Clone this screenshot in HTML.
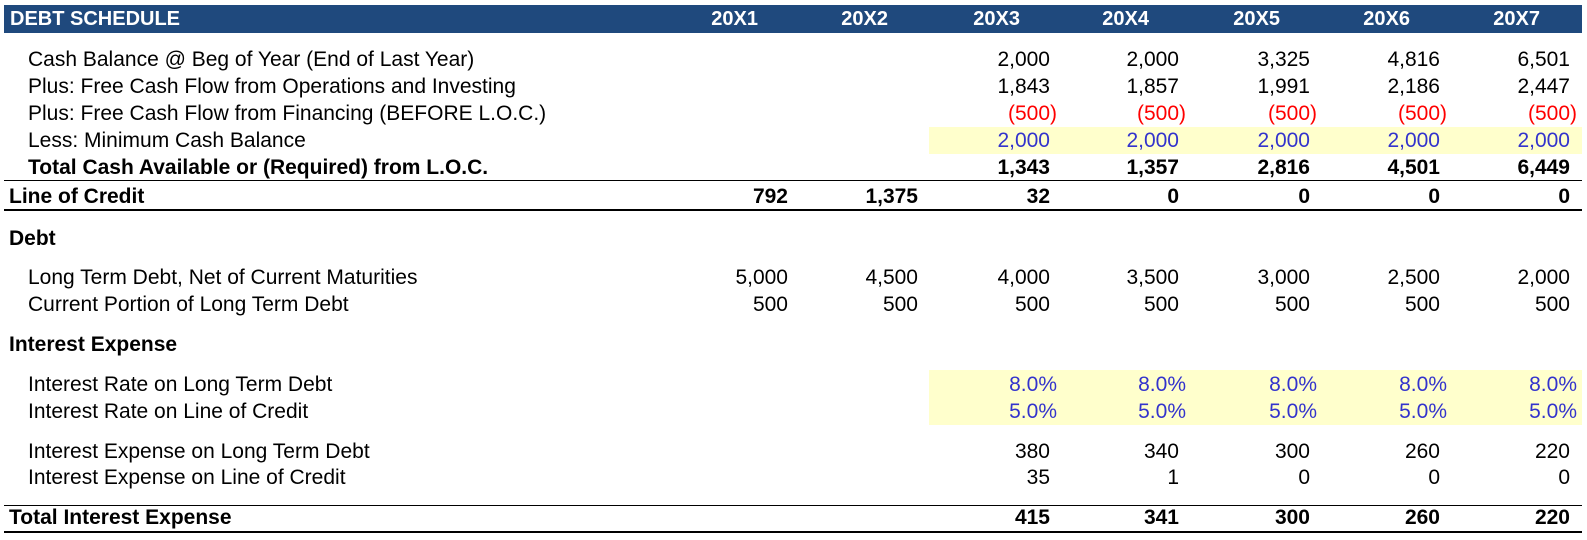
<!DOCTYPE html>
<html><head><meta charset="utf-8">
<style>
body{margin:0;background:#fff;width:1587px;height:540px;overflow:hidden;position:relative;font-family:"Liberation Sans",Arial,sans-serif;}
.t{position:absolute;font-size:21px;line-height:24px;white-space:nowrap;color:#000;}
.b{font-weight:bold;}
.r{text-align:right;}
.hdr{position:absolute;left:4px;top:5px;width:1578px;height:28px;background:#1F497D;}
.ht{position:absolute;color:#fff;font-weight:bold;font-size:20px;line-height:28px;top:5px;}
.yel{position:absolute;background:#FFFFCC;}
.ln{position:absolute;left:4px;width:1578px;background:#000;}
</style></head>
<body>
<div class="hdr"></div>
<div class="ht" style="left:10px">DEBT SCHEDULE</div>
<div class="yel" style="left:929px;top:127px;width:653px;height:27px"></div>
<div class="yel" style="left:929px;top:370px;width:653px;height:55px"></div>
<div class="ln" style="top:180px;height:1px"></div>
<div class="ln" style="top:209px;height:2px"></div>
<div class="ln" style="top:505px;height:1px"></div>
<div class="ln" style="top:531px;height:2px"></div>
<div id="root"></div>
<script>
const years=["20X1","20X2","20X3","20X4","20X5","20X6","20X7"];
const colRight=[788,918,1050,1179,1310,1440,1570];
const cashBeg=["","","2,000","2,000","3,325","4,816","6,501"];
const fcfOps=["","","1,843","1,857","1,991","2,186","2,447"];
const fcfFin=["","","(500)","(500)","(500)","(500)","(500)"];
const minCash=["","","2,000","2,000","2,000","2,000","2,000"];
const totalCash=["","","1,343","1,357","2,816","4,501","6,449"];
const loc=["792","1,375","32","0","0","0","0"];
const ltd=["5,000","4,500","4,000","3,500","3,000","2,500","2,000"];
const cpltd=["500","500","500","500","500","500","500"];
const rateLtd=["","","8.0%","8.0%","8.0%","8.0%","8.0%"];
const rateLoc=["","","5.0%","5.0%","5.0%","5.0%","5.0%"];
const intLtd=["","","380","340","300","260","220"];
const intLoc=["","","35","1","0","0","0"];
const totInt=["","","415","341","300","260","220"];
const rows=[
 {label:"Cash Balance @ Beg of Year (End of Last Year)",y:60,ind:true,vals:cashBeg,name:"cash-balance-beg"},
 {label:"Plus: Free Cash Flow from Operations and Investing",y:87,ind:true,vals:fcfOps,name:"fcf-operations"},
 {label:"Plus: Free Cash Flow from Financing (BEFORE L.O.C.)",y:114,ind:true,vals:fcfFin,name:"fcf-financing",color:"#FF0000"},
 {label:"Less: Minimum Cash Balance",y:141,ind:true,vals:minCash,name:"min-cash",color:"#3333CC"},
 {label:"Total Cash Available or (Required) from L.O.C.",y:168,ind:true,bold:true,vals:totalCash,name:"total-cash"},
 {label:"Line of Credit",y:197,bold:true,vals:loc,name:"line-of-credit"},
 {label:"Debt",y:239,bold:true,vals:null,name:"debt-heading"},
 {label:"Long Term Debt, Net of Current Maturities",y:278,ind:true,vals:ltd,name:"long-term-debt"},
 {label:"Current Portion of Long Term Debt",y:305,ind:true,vals:cpltd,name:"current-portion-ltd"},
 {label:"Interest Expense",y:345,bold:true,vals:null,name:"interest-heading"},
 {label:"Interest Rate on Long Term Debt",y:385,ind:true,vals:rateLtd,name:"rate-ltd",color:"#3333CC"},
 {label:"Interest Rate on Line of Credit",y:412,ind:true,vals:rateLoc,name:"rate-loc",color:"#3333CC"},
 {label:"Interest Expense on Long Term Debt",y:452,ind:true,vals:intLtd,name:"interest-ltd"},
 {label:"Interest Expense on Line of Credit",y:478,ind:true,vals:intLoc,name:"interest-loc"},
 {label:"Total Interest Expense",y:518,bold:true,vals:totInt,name:"total-interest"}
];
const root=document.getElementById('root');
years.forEach((yr,i)=>{
 const d=document.createElement('div');
 d.className='ht r';
 d.style.left=(colRight[i]-130)+'px';d.style.width='100px';
 d.textContent=yr;
 
 
 root.appendChild(d);
});
rows.forEach(r=>{
 const l=document.createElement('div');
 l.className='t'+(r.bold?' b':'');
 l.style.left=(r.ind?28:9)+'px';l.style.top=(r.y-12)+'px';
 l.textContent=r.label;
 
 
 root.appendChild(l);
 if(!r.vals)return;
 r.vals.forEach((v,i)=>{
  if(v==="")return;
  const c=document.createElement('div');
  c.className='t r'+(r.bold?' b':'');
  const extra=(v.indexOf('(')===0||v.indexOf('%')>=0)?7:0;
  c.style.left=(colRight[i]+extra-130)+'px';c.style.width='130px';
  c.style.top=(r.y-12)+'px';
  if(r.color)c.style.color=r.color;
  c.textContent=v;
  
  
  root.appendChild(c);
 });
});
</script>
</body></html>
